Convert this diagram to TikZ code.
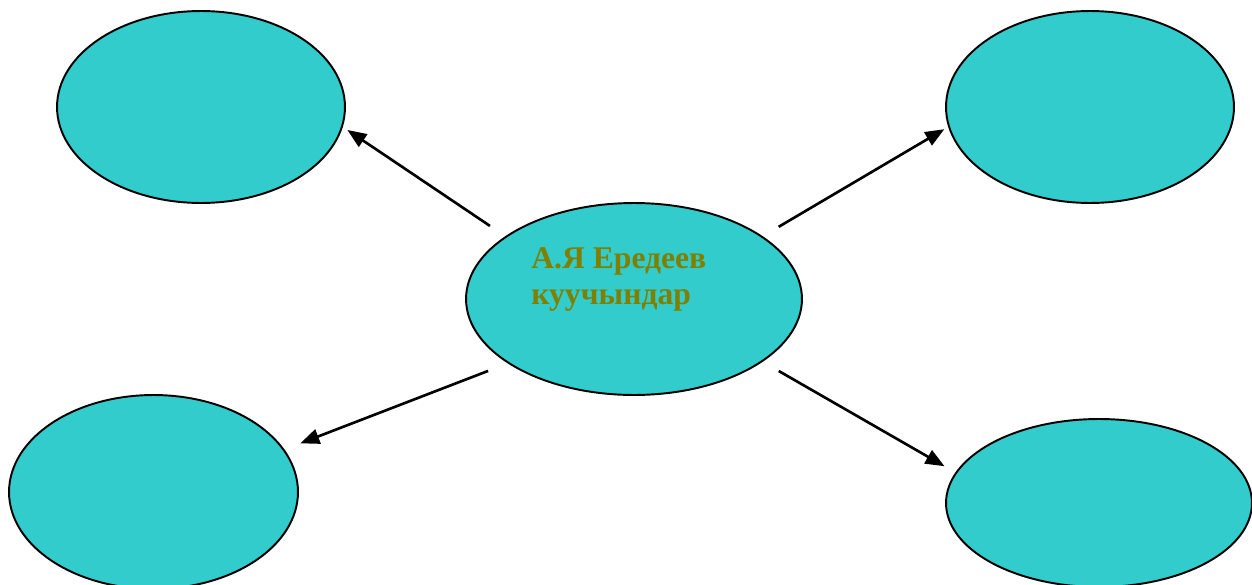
\documentclass[tikz,border=0pt]{standalone}
\usepackage{xcolor}
\usepackage{fontspec}
\setmainfont{Liberation Serif}
\usepackage{tikz}
\usetikzlibrary{shapes.geometric,arrows.meta}
\definecolor{sea}{RGB}{51,204,204}
\definecolor{oliv}{RGB}{128,128,0}
\begin{document}
\begin{tikzpicture}[x=0.02cm, y=-0.02cm,
    blob/.style={ellipse, draw=black, line width=1.1pt, fill=sea, inner sep=0pt},
    arr/.style={-{Triangle[length=0.38cm, width=0.3cm]}, line width=1.5pt}]
        % frame of the picture
        \useasboundingbox (0,0) rectangle (1252,585);
        \node[blob, minimum width=6.72cm, minimum height=3.84cm] (core) at (634,299) {};
        \node[blob, minimum width=5.76cm, minimum height=3.84cm] (upleft) at (201,107) {};
        \node[blob, minimum width=5.76cm, minimum height=3.84cm] (upright) at (1090,107) {};
        \node[blob, minimum width=5.78cm, minimum height=3.88cm] (lowleft) at (153.5,492) {};
        \node[blob, minimum width=6.12cm, minimum height=3.36cm] (lowright) at (1099,503) {};
        \node[anchor=base west, inner sep=0pt, align=left, text=oliv,
              font=\bfseries\fontsize{18pt}{20pt}\selectfont] (title) at (531,304)
              {А.Я Ередеев\\куучындар};
        \draw[arr, shorten <=0.37cm, shorten >=0.11cm] (core.154.3) -- (upleft.-8.8);
        \draw[arr, shorten <=0.37cm, shorten >=0.09cm] (core.26.4) -- (upright.188.9);
        \draw[arr, shorten <=0.42cm, shorten >=0.34cm] (core.207.5) -- (lowleft.18.4);
        \draw[arr, shorten <=0.37cm, shorten >=0.25cm] (core.-26.35) -- (lowright.168.2);
    \end{tikzpicture}
\end{document}
